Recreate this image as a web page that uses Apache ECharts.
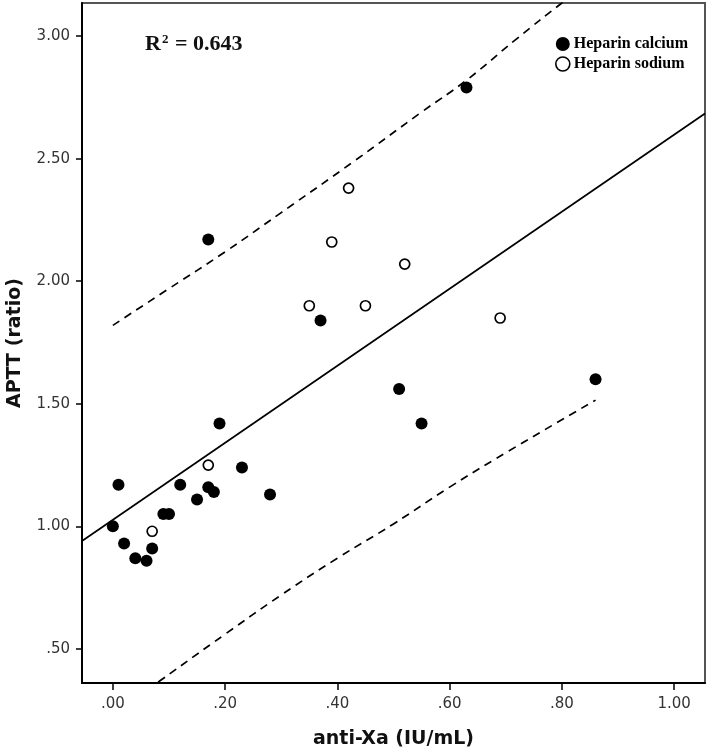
<!DOCTYPE html>
<html>
<head>
<meta charset="utf-8">
<script src="https://cdn.jsdelivr.net/npm/echarts@6/dist/echarts.min.js"></script>
<style>
html,body{margin:0;padding:0;background:#fff;}
#chart{width:709px;height:754px;}
</style>
</head>
<body>
<div id="chart"></div>
<script>
// ---- data ----
const calciumPoints = [
  [0.00,1.00],[0.01,1.17],[0.02,0.93],[0.04,0.87],[0.06,0.86],[0.07,0.91],
  [0.09,1.05],[0.10,1.05],[0.12,1.17],[0.15,1.11],[0.17,1.16],[0.18,1.14],
  [0.19,1.42],[0.23,1.24],[0.28,1.13],[0.17,2.17],[0.37,1.84],[0.51,1.56],
  [0.55,1.42],[0.63,2.79],[0.86,1.60]
];
const sodiumPoints = [
  [0.07,0.98],[0.17,1.25],[0.35,1.90],[0.39,2.16],[0.42,2.38],[0.45,1.90],
  [0.52,2.07],[0.69,1.85]
];
const fitLine = [[-0.055,0.94],[1.055,2.684]];
const upperBand = [[0.00,1.82],[0.10,1.97],[0.20,2.12],[0.30,2.28],[0.43,2.49],[0.55,2.69],[0.63,2.82],[0.72,2.99],[0.80,3.135],[0.86,3.24]];
const lowerBand = [[0.00,0.23],[0.084,0.37],[0.20,0.56],[0.30,0.72],[0.40,0.87],[0.50,1.01],[0.60,1.16],[0.70,1.30],[0.86,1.515]];
const xTicks = [0.00,0.20,0.40,0.60,0.80,1.00];
const yTicks = [0.50,1.00,1.50,2.00,2.50,3.00];
const seriesNames = ['Heparin calcium','Heparin sodium'];
const r2Value = '0.643';

function fmt(v){
  let s = Number(v).toFixed(2);
  if (s.startsWith('0.')) s = s.slice(1);
  return s;
}

const chart = echarts.init(document.getElementById('chart'), null, {renderer:'canvas'});
const tickLabel = {fontFamily:'DejaVu Sans', fontSize:15, color:'#333'};
const titleFont = {fontFamily:'DejaVu Sans', fontWeight:'bold', fontSize:19, color:'#111'};
chart.setOption({
  animation:false,
  backgroundColor:'#fff',
  grid:{left:82, right:4, top:3, bottom:71, outerBoundsMode:'none', containLabel:false, show:true, borderColor:'#555', borderWidth:2, backgroundColor:'transparent'},
  legend:{
    orient:'vertical', left:550, top:31, itemWidth:14, itemHeight:14, itemGap:4,
    data:[
      {name:seriesNames[0], icon:'circle', itemStyle:{color:'#000', opacity:1}},
      {name:seriesNames[1], icon:'circle', itemStyle:{color:'#fff', borderColor:'#000', borderWidth:1.6, opacity:1}}
    ],
    textStyle:{fontFamily:'Liberation Serif', fontWeight:'bold', fontSize:16, color:'#000', padding:[0,0,0,-1]}
  },
  xAxis:{
    type:'value', min:-0.055, max:1.055,
    name:'anti-Xa (IU/mL)', nameLocation:'middle', nameGap:47,
    nameTextStyle:titleFont,
    axisLine:{show:true, onZero:false, lineStyle:{color:'#000', width:2}},
    axisTick:{show:true, customValues:xTicks, length:7, lineStyle:{color:'#000', width:1.5}},
    axisLabel:{customValues:xTicks, formatter:fmt, margin:14, ...tickLabel},
    splitLine:{show:false}
  },
  yAxis:{
    type:'value', min:0.361, max:3.135,
    name:'APTT (ratio)', nameLocation:'middle', nameGap:57, nameRotate:90,
    nameTextStyle:titleFont,
    axisLine:{show:true, onZero:false, lineStyle:{color:'#000', width:2}},
    axisTick:{show:true, customValues:yTicks, length:6, lineStyle:{color:'#000', width:1.5}},
    axisLabel:{customValues:yTicks, formatter:fmt, margin:12, ...tickLabel},
    splitLine:{show:false}
  },
  graphic:[{
    type:'text', left:145, top:33,
    style:{
      text:'{a|R}{s|2}{a| = ' + r2Value + '}',
      fill:'#111',
      rich:{
        a:{fontFamily:'Liberation Serif', fontWeight:'bold', fontSize:22, fill:'#111', lineHeight:25},
        s:{fontFamily:'Liberation Serif', fontWeight:'bold', fontSize:13, fill:'#111', lineHeight:25, padding:[0,1,10,1]}
      }
    }
  }],
  series:[
    {name:'fit', type:'line', data:fitLine, showSymbol:false, symbol:'none', lineStyle:{color:'#000', width:1.7}, z:2, silent:true},
    {name:'upper', type:'line', data:upperBand, smooth:true, showSymbol:false, symbol:'none', lineStyle:{color:'#000', width:1.7, type:[8,6]}, z:2, silent:true},
    {name:'lower', type:'line', data:lowerBand, smooth:true, showSymbol:false, symbol:'none', lineStyle:{color:'#000', width:1.7, type:[8,6]}, z:2, silent:true},
    {name:seriesNames[0], type:'scatter', data:calciumPoints, symbol:'circle', symbolSize:12, itemStyle:{color:'#000', opacity:1}, z:3},
    {name:seriesNames[1], type:'scatter', data:sodiumPoints, symbol:'circle', symbolSize:10, itemStyle:{color:'#fff', borderColor:'#000', borderWidth:1.7, opacity:1}, z:3}
  ]
});
</script>
</body>
</html>
